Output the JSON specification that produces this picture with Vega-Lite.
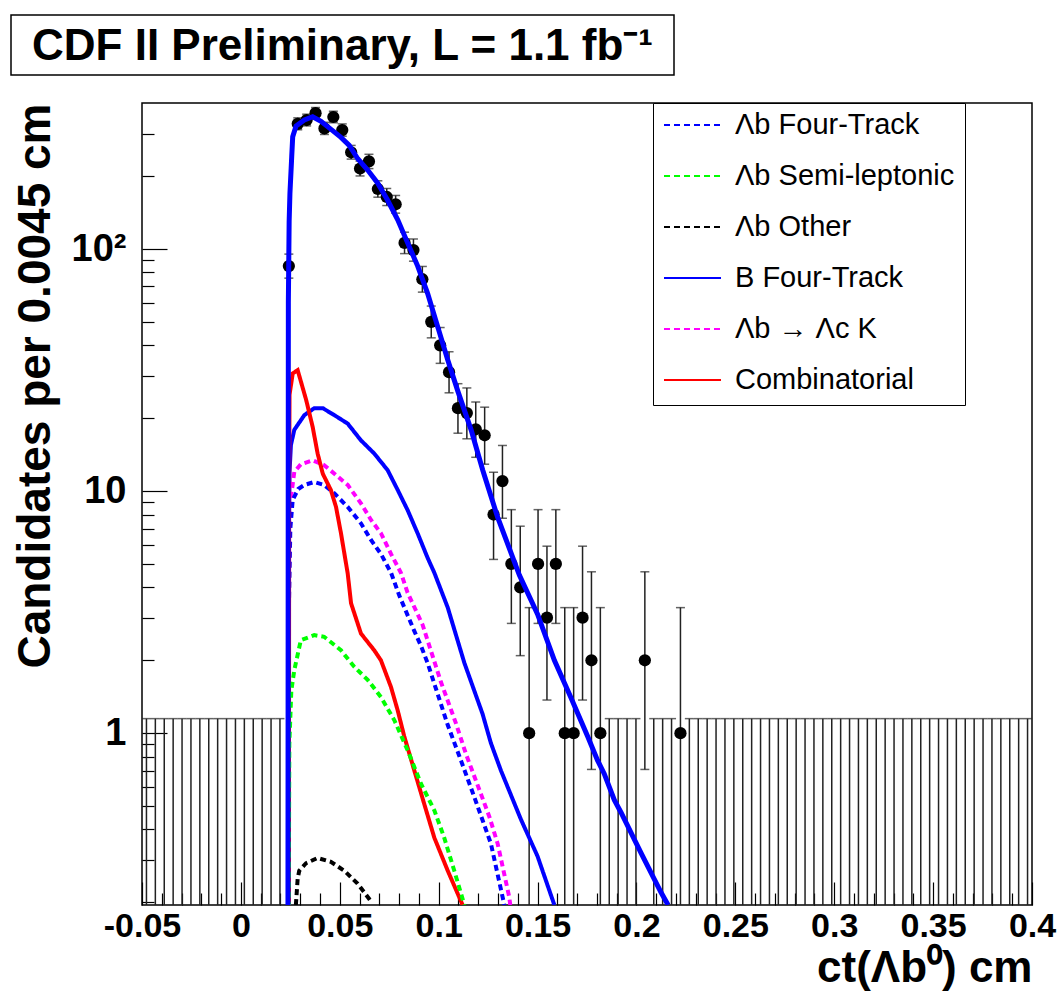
{
  "$schema": "https://vega.github.io/schema/vega-lite/v6.json",
  "background": "white",
  "padding": {"left": 10, "top": 14, "right": 0, "bottom": 0},
  "spacing": 25,
  "resolve": {"scale": {"color": "independent", "strokeDash": "independent"}, "legend": {"color": "independent", "strokeDash": "independent"}},
  "config": {
    "font": "Liberation Sans",
    "view": {"stroke": "black", "strokeWidth": 1.5},
    "axis": {"grid": false, "domain": false, "labelColor": "black", "titleColor": "black", "tickColor": "black", "labelOverlap": false, "labelFlush": false, "labelBound": false}
  },
  "datasets": {
    "bins": [
      {"ct": -0.04775, "n": 0, "lo": 0.1, "hi": 1.148},
      {"ct": -0.04325, "n": 0, "lo": 0.1, "hi": 1.148},
      {"ct": -0.03875, "n": 0, "lo": 0.1, "hi": 1.148},
      {"ct": -0.03425, "n": 0, "lo": 0.1, "hi": 1.148},
      {"ct": -0.02975, "n": 0, "lo": 0.1, "hi": 1.148},
      {"ct": -0.02525, "n": 0, "lo": 0.1, "hi": 1.148},
      {"ct": -0.02075, "n": 0, "lo": 0.1, "hi": 1.148},
      {"ct": -0.01625, "n": 0, "lo": 0.1, "hi": 1.148},
      {"ct": -0.01175, "n": 0, "lo": 0.1, "hi": 1.148},
      {"ct": -0.00725, "n": 0, "lo": 0.1, "hi": 1.148},
      {"ct": -0.00275, "n": 0, "lo": 0.1, "hi": 1.148},
      {"ct": 0.00175, "n": 0, "lo": 0.1, "hi": 1.148},
      {"ct": 0.00625, "n": 0, "lo": 0.1, "hi": 1.148},
      {"ct": 0.01075, "n": 0, "lo": 0.1, "hi": 1.148},
      {"ct": 0.01525, "n": 0, "lo": 0.1, "hi": 1.148},
      {"ct": 0.01975, "n": 0, "lo": 0.1, "hi": 1.148},
      {"ct": 0.02425, "n": 85, "lo": 75.79, "hi": 95.26},
      {"ct": 0.02875, "n": 329, "lo": 310.87, "hi": 348.16},
      {"ct": 0.03325, "n": 341, "lo": 322.54, "hi": 360.49},
      {"ct": 0.03775, "n": 364, "lo": 344.93, "hi": 384.1},
      {"ct": 0.04225, "n": 315, "lo": 297.26, "hi": 333.77},
      {"ct": 0.04675, "n": 351, "lo": 332.27, "hi": 370.75},
      {"ct": 0.05125, "n": 310, "lo": 292.4, "hi": 328.63},
      {"ct": 0.05575, "n": 251, "lo": 235.16, "hi": 267.87},
      {"ct": 0.06025, "n": 215, "lo": 200.34, "hi": 230.69},
      {"ct": 0.06475, "n": 230, "lo": 214.84, "hi": 246.19},
      {"ct": 0.06925, "n": 177, "lo": 163.7, "hi": 191.33},
      {"ct": 0.07375, "n": 164, "lo": 151.2, "hi": 177.84},
      {"ct": 0.07825, "n": 153, "lo": 140.64, "hi": 166.4},
      {"ct": 0.08275, "n": 106, "lo": 95.72, "hi": 117.33},
      {"ct": 0.08725, "n": 99, "lo": 89.06, "hi": 109.99},
      {"ct": 0.09175, "n": 75, "lo": 66.35, "hi": 84.7},
      {"ct": 0.09625, "n": 50, "lo": 42.95, "hi": 58.12},
      {"ct": 0.10075, "n": 40, "lo": 33.7, "hi": 47.38},
      {"ct": 0.10525, "n": 31, "lo": 25.46, "hi": 37.63},
      {"ct": 0.10975, "n": 22, "lo": 17.34, "hi": 27.77},
      {"ct": 0.11425, "n": 21, "lo": 16.44, "hi": 26.67},
      {"ct": 0.11875, "n": 18, "lo": 13.79, "hi": 23.33},
      {"ct": 0.12325, "n": 17, "lo": 12.91, "hi": 22.21},
      {"ct": 0.12775, "n": 8, "lo": 5.22, "hi": 11.96},
      {"ct": 0.13225, "n": 11, "lo": 7.72, "hi": 15.43},
      {"ct": 0.13675, "n": 5, "lo": 2.84, "hi": 8.38},
      {"ct": 0.14125, "n": 4, "lo": 2.09, "hi": 7.16},
      {"ct": 0.14575, "n": 1, "lo": 0.173, "hi": 3.3},
      {"ct": 0.15025, "n": 5, "lo": 2.84, "hi": 8.38},
      {"ct": 0.15475, "n": 3, "lo": 1.37, "hi": 5.92},
      {"ct": 0.15925, "n": 5, "lo": 2.84, "hi": 8.38},
      {"ct": 0.16375, "n": 1, "lo": 0.173, "hi": 3.3},
      {"ct": 0.16825, "n": 1, "lo": 0.173, "hi": 3.3},
      {"ct": 0.17275, "n": 3, "lo": 1.37, "hi": 5.92},
      {"ct": 0.17725, "n": 2, "lo": 0.708, "hi": 4.64},
      {"ct": 0.18175, "n": 1, "lo": 0.173, "hi": 3.3},
      {"ct": 0.18625, "n": 0, "lo": 0.1, "hi": 1.148},
      {"ct": 0.19075, "n": 0, "lo": 0.1, "hi": 1.148},
      {"ct": 0.19525, "n": 0, "lo": 0.1, "hi": 1.148},
      {"ct": 0.19975, "n": 0, "lo": 0.1, "hi": 1.148},
      {"ct": 0.20425, "n": 2, "lo": 0.708, "hi": 4.64},
      {"ct": 0.20875, "n": 0, "lo": 0.1, "hi": 1.148},
      {"ct": 0.21325, "n": 0, "lo": 0.1, "hi": 1.148},
      {"ct": 0.21775, "n": 0, "lo": 0.1, "hi": 1.148},
      {"ct": 0.22225, "n": 1, "lo": 0.173, "hi": 3.3},
      {"ct": 0.22675, "n": 0, "lo": 0.1, "hi": 1.148},
      {"ct": 0.23125, "n": 0, "lo": 0.1, "hi": 1.148},
      {"ct": 0.23575, "n": 0, "lo": 0.1, "hi": 1.148},
      {"ct": 0.24025, "n": 0, "lo": 0.1, "hi": 1.148},
      {"ct": 0.24475, "n": 0, "lo": 0.1, "hi": 1.148},
      {"ct": 0.24925, "n": 0, "lo": 0.1, "hi": 1.148},
      {"ct": 0.25375, "n": 0, "lo": 0.1, "hi": 1.148},
      {"ct": 0.25825, "n": 0, "lo": 0.1, "hi": 1.148},
      {"ct": 0.26275, "n": 0, "lo": 0.1, "hi": 1.148},
      {"ct": 0.26725, "n": 0, "lo": 0.1, "hi": 1.148},
      {"ct": 0.27175, "n": 0, "lo": 0.1, "hi": 1.148},
      {"ct": 0.27625, "n": 0, "lo": 0.1, "hi": 1.148},
      {"ct": 0.28075, "n": 0, "lo": 0.1, "hi": 1.148},
      {"ct": 0.28525, "n": 0, "lo": 0.1, "hi": 1.148},
      {"ct": 0.28975, "n": 0, "lo": 0.1, "hi": 1.148},
      {"ct": 0.29425, "n": 0, "lo": 0.1, "hi": 1.148},
      {"ct": 0.29875, "n": 0, "lo": 0.1, "hi": 1.148},
      {"ct": 0.30325, "n": 0, "lo": 0.1, "hi": 1.148},
      {"ct": 0.30775, "n": 0, "lo": 0.1, "hi": 1.148},
      {"ct": 0.31225, "n": 0, "lo": 0.1, "hi": 1.148},
      {"ct": 0.31675, "n": 0, "lo": 0.1, "hi": 1.148},
      {"ct": 0.32125, "n": 0, "lo": 0.1, "hi": 1.148},
      {"ct": 0.32575, "n": 0, "lo": 0.1, "hi": 1.148},
      {"ct": 0.33025, "n": 0, "lo": 0.1, "hi": 1.148},
      {"ct": 0.33475, "n": 0, "lo": 0.1, "hi": 1.148},
      {"ct": 0.33925, "n": 0, "lo": 0.1, "hi": 1.148},
      {"ct": 0.34375, "n": 0, "lo": 0.1, "hi": 1.148},
      {"ct": 0.34825, "n": 0, "lo": 0.1, "hi": 1.148},
      {"ct": 0.35275, "n": 0, "lo": 0.1, "hi": 1.148},
      {"ct": 0.35725, "n": 0, "lo": 0.1, "hi": 1.148},
      {"ct": 0.36175, "n": 0, "lo": 0.1, "hi": 1.148},
      {"ct": 0.36625, "n": 0, "lo": 0.1, "hi": 1.148},
      {"ct": 0.37075, "n": 0, "lo": 0.1, "hi": 1.148},
      {"ct": 0.37525, "n": 0, "lo": 0.1, "hi": 1.148},
      {"ct": 0.37975, "n": 0, "lo": 0.1, "hi": 1.148},
      {"ct": 0.38425, "n": 0, "lo": 0.1, "hi": 1.148},
      {"ct": 0.38875, "n": 0, "lo": 0.1, "hi": 1.148},
      {"ct": 0.39325, "n": 0, "lo": 0.1, "hi": 1.148},
      {"ct": 0.39775, "n": 0, "lo": 0.1, "hi": 1.148}
    ],
    "fit": [
      {"ct": 0.0238, "v": 0.19}, {"ct": 0.024, "v": 60}, {"ct": 0.0244, "v": 130}, {"ct": 0.0248, "v": 170},
      {"ct": 0.0257, "v": 241}, {"ct": 0.0262, "v": 291}, {"ct": 0.0279, "v": 322}, {"ct": 0.0321, "v": 341},
      {"ct": 0.0363, "v": 352}, {"ct": 0.0405, "v": 337}, {"ct": 0.0456, "v": 312}, {"ct": 0.0506, "v": 289},
      {"ct": 0.0548, "v": 268}, {"ct": 0.0591, "v": 236}, {"ct": 0.0641, "v": 212}, {"ct": 0.0692, "v": 187},
      {"ct": 0.0742, "v": 159}, {"ct": 0.0793, "v": 132}, {"ct": 0.0843, "v": 106}, {"ct": 0.0894, "v": 85},
      {"ct": 0.0944, "v": 65.6}, {"ct": 0.0995, "v": 47.8}, {"ct": 0.1046, "v": 34.8}, {"ct": 0.1096, "v": 26},
      {"ct": 0.1164, "v": 17.9}, {"ct": 0.1223, "v": 12.2}, {"ct": 0.1298, "v": 7.8}, {"ct": 0.1408, "v": 4.5},
      {"ct": 0.15, "v": 3.1}, {"ct": 0.1585, "v": 2.0}, {"ct": 0.1669, "v": 1.4}, {"ct": 0.1753, "v": 0.97},
      {"ct": 0.1804, "v": 0.77}, {"ct": 0.1837, "v": 0.68}, {"ct": 0.1888, "v": 0.53}, {"ct": 0.1922, "v": 0.47},
      {"ct": 0.2023, "v": 0.32}, {"ct": 0.2124, "v": 0.22}, {"ct": 0.216, "v": 0.195}
    ],
    "curves": [
      {"comp": "B Four-Track", "ct": 0.024, "v": 0.19},
      {"comp": "B Four-Track", "ct": 0.0242, "v": 6},
      {"comp": "B Four-Track", "ct": 0.0246, "v": 12},
      {"comp": "B Four-Track", "ct": 0.0253, "v": 15.5},
      {"comp": "B Four-Track", "ct": 0.027, "v": 17.9},
      {"comp": "B Four-Track", "ct": 0.0321, "v": 20.6},
      {"comp": "B Four-Track", "ct": 0.0371, "v": 22.0},
      {"comp": "B Four-Track", "ct": 0.0414, "v": 22.0},
      {"comp": "B Four-Track", "ct": 0.0472, "v": 20.6},
      {"comp": "B Four-Track", "ct": 0.054, "v": 19.0},
      {"comp": "B Four-Track", "ct": 0.0607, "v": 16.2},
      {"comp": "B Four-Track", "ct": 0.0674, "v": 14.3},
      {"comp": "B Four-Track", "ct": 0.0742, "v": 12.2},
      {"comp": "B Four-Track", "ct": 0.0793, "v": 10.1},
      {"comp": "B Four-Track", "ct": 0.0843, "v": 8.34},
      {"comp": "B Four-Track", "ct": 0.0894, "v": 6.68},
      {"comp": "B Four-Track", "ct": 0.0944, "v": 5.3},
      {"comp": "B Four-Track", "ct": 0.0978, "v": 4.6},
      {"comp": "B Four-Track", "ct": 0.1046, "v": 3.3},
      {"comp": "B Four-Track", "ct": 0.113, "v": 1.95},
      {"comp": "B Four-Track", "ct": 0.1222, "v": 1.2},
      {"comp": "B Four-Track", "ct": 0.1264, "v": 0.91},
      {"comp": "B Four-Track", "ct": 0.1315, "v": 0.7},
      {"comp": "B Four-Track", "ct": 0.1416, "v": 0.44},
      {"comp": "B Four-Track", "ct": 0.15, "v": 0.31},
      {"comp": "B Four-Track", "ct": 0.1585, "v": 0.195},
      {"comp": "Λb → Λc K", "ct": 0.024, "v": 0.19},
      {"comp": "Λb → Λc K", "ct": 0.0242, "v": 4},
      {"comp": "Λb → Λc K", "ct": 0.025, "v": 9},
      {"comp": "Λb → Λc K", "ct": 0.027, "v": 12.0},
      {"comp": "Λb → Λc K", "ct": 0.0303, "v": 12.9},
      {"comp": "Λb → Λc K", "ct": 0.0363, "v": 13.4},
      {"comp": "Λb → Λc K", "ct": 0.0421, "v": 12.8},
      {"comp": "Λb → Λc K", "ct": 0.0489, "v": 11.5},
      {"comp": "Λb → Λc K", "ct": 0.054, "v": 10.6},
      {"comp": "Λb → Λc K", "ct": 0.0607, "v": 8.9},
      {"comp": "Λb → Λc K", "ct": 0.0658, "v": 7.6},
      {"comp": "Λb → Λc K", "ct": 0.0708, "v": 6.7},
      {"comp": "Λb → Λc K", "ct": 0.0759, "v": 5.5},
      {"comp": "Λb → Λc K", "ct": 0.0809, "v": 4.6},
      {"comp": "Λb → Λc K", "ct": 0.0843, "v": 3.8},
      {"comp": "Λb → Λc K", "ct": 0.0919, "v": 2.8},
      {"comp": "Λb → Λc K", "ct": 0.1011, "v": 1.63},
      {"comp": "Λb → Λc K", "ct": 0.1087, "v": 1.1},
      {"comp": "Λb → Λc K", "ct": 0.1138, "v": 0.82},
      {"comp": "Λb → Λc K", "ct": 0.1214, "v": 0.56},
      {"comp": "Λb → Λc K", "ct": 0.1257, "v": 0.45},
      {"comp": "Λb → Λc K", "ct": 0.1298, "v": 0.35},
      {"comp": "Λb → Λc K", "ct": 0.1357, "v": 0.21},
      {"comp": "Λb → Λc K", "ct": 0.1362, "v": 0.195},
      {"comp": "Λb Four-Track", "ct": 0.024, "v": 0.19},
      {"comp": "Λb Four-Track", "ct": 0.0242, "v": 3},
      {"comp": "Λb Four-Track", "ct": 0.025, "v": 7},
      {"comp": "Λb Four-Track", "ct": 0.0262, "v": 9.2},
      {"comp": "Λb Four-Track", "ct": 0.029, "v": 10.2},
      {"comp": "Λb Four-Track", "ct": 0.0321, "v": 10.6},
      {"comp": "Λb Four-Track", "ct": 0.0371, "v": 10.9},
      {"comp": "Λb Four-Track", "ct": 0.0421, "v": 10.6},
      {"comp": "Λb Four-Track", "ct": 0.0472, "v": 9.8},
      {"comp": "Λb Four-Track", "ct": 0.054, "v": 8.6},
      {"comp": "Λb Four-Track", "ct": 0.0607, "v": 7.36},
      {"comp": "Λb Four-Track", "ct": 0.0658, "v": 6.28},
      {"comp": "Λb Four-Track", "ct": 0.0708, "v": 5.5},
      {"comp": "Λb Four-Track", "ct": 0.0759, "v": 4.6},
      {"comp": "Λb Four-Track", "ct": 0.0801, "v": 3.7},
      {"comp": "Λb Four-Track", "ct": 0.0876, "v": 2.65},
      {"comp": "Λb Four-Track", "ct": 0.091, "v": 2.3},
      {"comp": "Λb Four-Track", "ct": 0.0944, "v": 1.95},
      {"comp": "Λb Four-Track", "ct": 0.0978, "v": 1.6},
      {"comp": "Λb Four-Track", "ct": 0.1046, "v": 1.08},
      {"comp": "Λb Four-Track", "ct": 0.1113, "v": 0.77},
      {"comp": "Λb Four-Track", "ct": 0.118, "v": 0.545},
      {"comp": "Λb Four-Track", "ct": 0.1264, "v": 0.35},
      {"comp": "Λb Four-Track", "ct": 0.1332, "v": 0.195},
      {"comp": "Combinatorial", "ct": 0.0243, "v": 0.19},
      {"comp": "Combinatorial", "ct": 0.0244, "v": 10},
      {"comp": "Combinatorial", "ct": 0.0246, "v": 25},
      {"comp": "Combinatorial", "ct": 0.0262, "v": 30.6},
      {"comp": "Combinatorial", "ct": 0.0287, "v": 31.6},
      {"comp": "Combinatorial", "ct": 0.033, "v": 23.8},
      {"comp": "Combinatorial", "ct": 0.0363, "v": 18.4},
      {"comp": "Combinatorial", "ct": 0.0388, "v": 14.3},
      {"comp": "Combinatorial", "ct": 0.0414, "v": 11.8},
      {"comp": "Combinatorial", "ct": 0.0455, "v": 10.1},
      {"comp": "Combinatorial", "ct": 0.0481, "v": 8.6},
      {"comp": "Combinatorial", "ct": 0.0506, "v": 6.7},
      {"comp": "Combinatorial", "ct": 0.054, "v": 4.57},
      {"comp": "Combinatorial", "ct": 0.0557, "v": 3.44},
      {"comp": "Combinatorial", "ct": 0.0607, "v": 2.58},
      {"comp": "Combinatorial", "ct": 0.0674, "v": 2.2},
      {"comp": "Combinatorial", "ct": 0.0708, "v": 2.0},
      {"comp": "Combinatorial", "ct": 0.0759, "v": 1.55},
      {"comp": "Combinatorial", "ct": 0.0793, "v": 1.24},
      {"comp": "Combinatorial", "ct": 0.0826, "v": 0.97},
      {"comp": "Combinatorial", "ct": 0.0877, "v": 0.7},
      {"comp": "Combinatorial", "ct": 0.0927, "v": 0.51},
      {"comp": "Combinatorial", "ct": 0.0978, "v": 0.37},
      {"comp": "Combinatorial", "ct": 0.1046, "v": 0.27},
      {"comp": "Combinatorial", "ct": 0.1121, "v": 0.195},
      {"comp": "Λb Semi-leptonic", "ct": 0.0242, "v": 0.19},
      {"comp": "Λb Semi-leptonic", "ct": 0.0245, "v": 0.9},
      {"comp": "Λb Semi-leptonic", "ct": 0.0255, "v": 1.5},
      {"comp": "Λb Semi-leptonic", "ct": 0.027, "v": 1.82},
      {"comp": "Λb Semi-leptonic", "ct": 0.0303, "v": 2.42},
      {"comp": "Λb Semi-leptonic", "ct": 0.0371, "v": 2.54},
      {"comp": "Λb Semi-leptonic", "ct": 0.0421, "v": 2.5},
      {"comp": "Λb Semi-leptonic", "ct": 0.0506, "v": 2.2},
      {"comp": "Λb Semi-leptonic", "ct": 0.0573, "v": 1.88},
      {"comp": "Λb Semi-leptonic", "ct": 0.0641, "v": 1.66},
      {"comp": "Λb Semi-leptonic", "ct": 0.0708, "v": 1.41},
      {"comp": "Λb Semi-leptonic", "ct": 0.0776, "v": 1.13},
      {"comp": "Λb Semi-leptonic", "ct": 0.0843, "v": 0.85},
      {"comp": "Λb Semi-leptonic", "ct": 0.091, "v": 0.62},
      {"comp": "Λb Semi-leptonic", "ct": 0.0978, "v": 0.48},
      {"comp": "Λb Semi-leptonic", "ct": 0.1028, "v": 0.37},
      {"comp": "Λb Semi-leptonic", "ct": 0.1079, "v": 0.27},
      {"comp": "Λb Semi-leptonic", "ct": 0.113, "v": 0.195},
      {"comp": "Λb Other", "ct": 0.0278, "v": 0.195},
      {"comp": "Λb Other", "ct": 0.0287, "v": 0.25},
      {"comp": "Λb Other", "ct": 0.0295, "v": 0.27},
      {"comp": "Λb Other", "ct": 0.0329, "v": 0.29},
      {"comp": "Λb Other", "ct": 0.0388, "v": 0.305},
      {"comp": "Λb Other", "ct": 0.0455, "v": 0.294},
      {"comp": "Λb Other", "ct": 0.0523, "v": 0.27},
      {"comp": "Λb Other", "ct": 0.059, "v": 0.239},
      {"comp": "Λb Other", "ct": 0.0648, "v": 0.207},
      {"comp": "Λb Other", "ct": 0.066, "v": 0.2}
    ]
  },
  "vconcat": [
    {
      "width": 663,
      "height": 60,
      "view": {"style": "cell", "stroke": "black", "strokeWidth": 1.5},
      "data": {"values": [{"label": "CDF II Preliminary, L = 1.1 fb⁻¹"}]},
      "mark": {"type": "text", "fontSize": 44, "fontWeight": "bold", "align": "center", "baseline": "middle", "dy": 2, "color": "black"},
      "encoding": {"text": {"field": "label", "type": "nominal"}}
    },
    {
      "spacing": 0,
      "bounds": "flush",
      "resolve": {"scale": {"color": "independent", "strokeDash": "independent"}, "legend": {"color": "independent", "strokeDash": "independent"}},
      "hconcat": [
        {
          "width": 131,
          "height": 802,
          "view": {"stroke": null},
          "data": {"name": "bins"},
          "mark": {"type": "point", "opacity": 0},
          "encoding": {
            "y": {
              "field": "hi", "type": "quantitative",
              "scale": {"type": "log", "domain": [0.195, 401], "nice": false},
              "axis": {
                "orient": "left", "offset": -131,
                "values": [1, 10, 100],
                "labelExpr": "datum.value == 100 ? '10²' : '' + datum.value",
                "labelFontSize": 38, "labelFontWeight": "bold", "labelPadding": 41,
                "tickSize": -25, "tickWidth": 1.2,
                "title": "Candidates per 0.0045 cm",
                "titleFontSize": 46, "titleFontWeight": "bold", "titleAnchor": "end", "titlePadding": 12
              }
            }
          }
        },
        {
          "width": 890,
          "height": 802,
          "resolve": {"axis": {"x": "independent", "y": "independent"}},
          "layer": [
            {
              "data": {"name": "bins"},
              "mark": {"type": "rule", "clip": true, "color": "#222222", "strokeWidth": 1.5},
              "encoding": {
                "x": {
                  "field": "ct", "type": "quantitative",
                  "scale": {"domain": [-0.05, 0.4], "nice": false, "zero": false},
                  "axis": {
                    "orient": "bottom",
                    "title": "ct(Λb⁰) cm",
                    "values": [-0.05, 0, 0.05, 0.1, 0.15, 0.2, 0.25, 0.3, 0.35, 0.4],
                    "labelExpr": "'' + datum.value",
                    "labelFontSize": 34, "labelFontWeight": "bold", "labelPadding": 27,
                    "tickSize": -23, "tickWidth": 1.2,
                    "titleFontSize": 44, "titleFontWeight": "bold", "titleAnchor": "end", "titlePadding": 3
                  }
                },
                "y": {
                  "field": "lo", "type": "quantitative",
                  "scale": {"type": "log", "domain": [0.195, 401], "nice": false},
                  "axis": null
                },
                "y2": {"field": "hi"}
              }
            },
            {
              "data": {"name": "bins"},
              "mark": {"type": "tick", "orient": "horizontal", "clip": true, "color": "#222222", "thickness": 1.5, "size": 9},
              "encoding": {
                "x": {
                  "field": "ct", "type": "quantitative",
                  "axis": {
                    "orient": "bottom",
                    "values": [-0.04, -0.03, -0.02, -0.01, 0.01, 0.02, 0.03, 0.04, 0.06, 0.07, 0.08, 0.09, 0.11, 0.12, 0.13, 0.14, 0.16, 0.17, 0.18, 0.19, 0.21, 0.22, 0.23, 0.24, 0.26, 0.27, 0.28, 0.29, 0.31, 0.32, 0.33, 0.34, 0.36, 0.37, 0.38, 0.39],
                    "labels": false, "title": null,
                    "tickSize": -12, "tickWidth": 1.2
                  }
                },
                "y": {
                  "field": "hi", "type": "quantitative",
                  "axis": {
                    "orient": "left",
                    "values": [0.2, 0.3, 0.4, 0.5, 0.6, 0.7, 0.8, 0.9, 2, 3, 4, 5, 6, 7, 8, 9, 20, 30, 40, 50, 60, 70, 80, 90, 200, 300],
                    "labels": false, "title": null,
                    "tickSize": -12, "tickWidth": 1.2
                  }
                }
              }
            },
            {
              "data": {"name": "bins"},
              "transform": [{"filter": "datum.n > 0"}],
              "mark": {"type": "tick", "orient": "horizontal", "clip": true, "color": "#222222", "thickness": 1.5, "size": 9},
              "encoding": {
                "x": {"field": "ct", "type": "quantitative", "axis": null},
                "y": {"field": "lo", "type": "quantitative", "axis": null}
              }
            },
            {
              "data": {"name": "bins"},
              "transform": [{"filter": "datum.n > 0"}],
              "mark": {"type": "point", "shape": "circle", "filled": true, "color": "black", "size": 150, "opacity": 1, "clip": true},
              "encoding": {
                "x": {"field": "ct", "type": "quantitative", "axis": null},
                "y": {"field": "n", "type": "quantitative", "axis": null}
              }
            },
            {
              "data": {"name": "curves"},
              "mark": {"type": "line", "clip": true, "strokeWidth": 4},
              "encoding": {
                "x": {"field": "ct", "type": "quantitative", "axis": null},
                "y": {"field": "v", "type": "quantitative", "axis": null},
                "color": {
                  "field": "comp", "type": "nominal",
                  "scale": {
                    "domain": ["Λb Four-Track", "Λb Semi-leptonic", "Λb Other", "B Four-Track", "Λb → Λc K", "Combinatorial"],
                    "range": ["#0000ff", "#00ff00", "#000000", "#0000ff", "#ff00ff", "#ff0000"]
                  },
                  "legend": {
                    "title": null, "orient": "none", "legendX": 511, "legendY": 0,
                    "symbolType": "stroke", "symbolSize": 3249, "symbolStrokeWidth": 2,
                    "labelFontSize": 29, "labelColor": "black", "labelOffset": 13, "labelLimit": 400,
                    "padding": 10, "strokeColor": "black", "fillColor": "white",
                    "rowPadding": 22, "clipHeight": 24
                  }
                },
                "strokeDash": {
                  "field": "comp", "type": "nominal",
                  "scale": {
                    "domain": ["Λb Four-Track", "Λb Semi-leptonic", "Λb Other", "B Four-Track", "Λb → Λc K", "Combinatorial"],
                    "range": [[6, 4], [6, 4], [6, 4], [1, 0], [6, 4], [1, 0]]
                  },
                  "legend": {
                    "title": null, "orient": "none", "legendX": 511, "legendY": 0,
                    "symbolType": "stroke", "symbolSize": 3249, "symbolStrokeWidth": 2,
                    "labelFontSize": 29, "labelColor": "black", "labelOffset": 13, "labelLimit": 400,
                    "padding": 10, "strokeColor": "black", "fillColor": "white",
                    "rowPadding": 22, "clipHeight": 24
                  }
                }
              }
            },
            {
              "data": {"name": "fit"},
              "mark": {"type": "line", "clip": true, "strokeWidth": 5, "color": "#0000ff"},
              "encoding": {
                "x": {"field": "ct", "type": "quantitative", "axis": null},
                "y": {"field": "v", "type": "quantitative", "axis": null}
              }
            }
          ]
        }
      ]
    }
  ]
}
